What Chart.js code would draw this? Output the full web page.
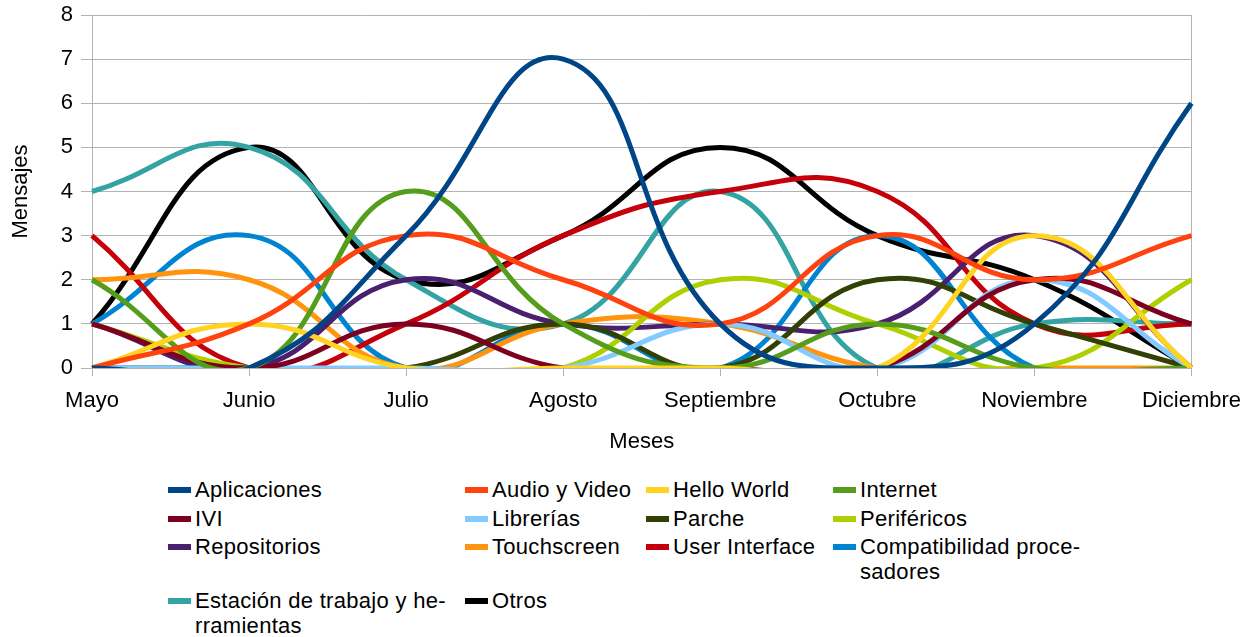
<!DOCTYPE html>
<html lang="es">
<head>
  <meta charset="UTF-8" />
  <title>Mensajes por mes</title>
  <script src="https://cdn.jsdelivr.net/npm/chart.js"></script>
  <style>
    body { margin: 0; background: #fff; font-family: 'Liberation Sans', Arial, sans-serif; }
    #wrap { position: relative; width: 1253px; height: 637px; }
    #chart { position: absolute; left: 0; top: 0; }
    #legend {
      position: absolute; left: 168px; top: 477px;
      display: grid; grid-template-columns: 297px 181px 187px auto;
      row-gap: 3.5px; font-size: 22px; line-height: 25px; color: #000;
      letter-spacing: 0.3px;
    }
    .item { display: flex; align-items: flex-start; }
    .mark { width: 23px; height: 6px; margin-top: 10px; margin-right: 4px; flex: none; }
    .txt { white-space: pre; }
  </style>
</head>
<body>
  <div id="wrap">
    <canvas id="chart" width="1253" height="460"></canvas>
    <div id="legend"></div>
  </div>

  <script>
    // Datos
    const months = ['Mayo', 'Junio', 'Julio', 'Agosto', 'Septiembre', 'Octubre', 'Noviembre', 'Diciembre'];
    const aplicaciones   = [0, 0, 3, 7, 1, 0, 1, 6];
    const audioVideo     = [0, 1, 3, 2, 1, 3, 2, 3];
    const helloWorld     = [0, 1, 0, 0, 0, 0, 3, 0];
    const internet       = [2, 0, 4, 1, 0, 1, 0, 0];
    const ivi            = [1, 0, 1, 0, 0, 0, 2, 1];
    const librerias      = [0, 0, 0, 0, 1, 0, 2, 0];
    const parche         = [0, 0, 0, 1, 0, 2, 1, 0];
    const perifericos    = [1, 0, 0, 0, 2, 1, 0, 2];
    const repositorios   = [1, 0, 2, 1, 1, 1, 3, 0];
    const touchscreen    = [2, 2, 0, 1, 1, 0, 0, 0];
    const userInterface  = [3, 0, 1, 3, 4, 4, 1, 1];
    const compatibilidad = [1, 3, 0, 1, 0, 3, 0, 0];
    const estacion       = [4, 5, 2, 1, 4, 0, 1, 1];
    const otros          = [1, 5, 2, 3, 5, 3, 2, 0];

    const series = [
      ['Aplicaciones', aplicaciones, '#004586'],
      ['Audio y Video', audioVideo, '#ff420e'],
      ['Hello World', helloWorld, '#ffd320'],
      ['Internet', internet, '#579d1c'],
      ['IVI', ivi, '#7e0021'],
      ['Librerías', librerias, '#83caff'],
      ['Parche', parche, '#314004'],
      ['Periféricos', perifericos, '#aecf00'],
      ['Repositorios', repositorios, '#4b1f6f'],
      ['Touchscreen', touchscreen, '#ff950e'],
      ['User Interface', userInterface, '#c5000b'],
      ['Compatibilidad procesadores', compatibilidad, '#0084d1'],
      ['Estación de trabajo y herramientas', estacion, '#33a3a3'],
      ['Otros', otros, '#000000'],
    ];

    // cortes de línea como en la leyenda original
    const legendText = {
      'Compatibilidad procesadores': 'Compatibilidad proce-\nsadores',
      'Estación de trabajo y herramientas': 'Estación de trabajo y he-\nrramientas',
    };

    Chart.defaults.font.family = "'Liberation Sans', Arial, sans-serif";
    Chart.defaults.font.size = 22;
    Chart.defaults.color = '#000';

    const gridColor = '#b3b3b3';

    const chart = new Chart(document.getElementById('chart'), {
      type: 'line',
      data: {
        labels: months,
        datasets: series.map(([label, data, color]) => ({
          label: label,
          data: data,
          borderColor: color,
          backgroundColor: color,
          borderWidth: 5,
          pointRadius: 0,
          tension: 0.45,
          fill: false,
        })),
      },
      options: {
        responsive: false,
        animation: false,
        layout: { padding: { left: 0, right: 60, top: 15, bottom: 0 } },
        elements: { line: { capBezierPoints: false } },
        plugins: { legend: { display: false }, tooltip: { enabled: false } },
        scales: {
          x: {
            offset: false,
            grid: {
              color: (ctx) => ctx.index === months.length - 1 ? gridColor : 'transparent',
              tickColor: gridColor,
              tickLength: 8,
            },
            border: { color: gridColor },
            ticks: { padding: 12, maxRotation: 0, autoSkip: false },
            title: { display: true, text: 'Meses', padding: { top: 4, bottom: 5 } },
            afterFit: (scale) => { scale.height = 92; },
          },
          y: {
            min: 0,
            max: 8,
            ticks: { stepSize: 1, padding: 8 },
            grid: { color: gridColor, tickLength: 11 },
            border: { color: gridColor },
            title: { display: true, text: 'Mensajes', padding: { top: 8 } },
            afterFit: (scale) => {
              scale.width = 92;
              scale.paddingTop = 0;
              scale.paddingBottom = 0;
            },
          },
        },
      },
    });

    // Leyenda HTML en cuatro columnas
    const legend = document.getElementById('legend');
    chart.data.datasets.forEach((ds) => {
      const item = document.createElement('div');
      item.className = 'item';
      const mark = document.createElement('span');
      mark.className = 'mark';
      mark.style.background = ds.borderColor;
      const txt = document.createElement('span');
      txt.className = 'txt';
      txt.textContent = legendText[ds.label] || ds.label;
      item.appendChild(mark);
      item.appendChild(txt);
      legend.appendChild(item);
    });
  </script>
</body>
</html>
